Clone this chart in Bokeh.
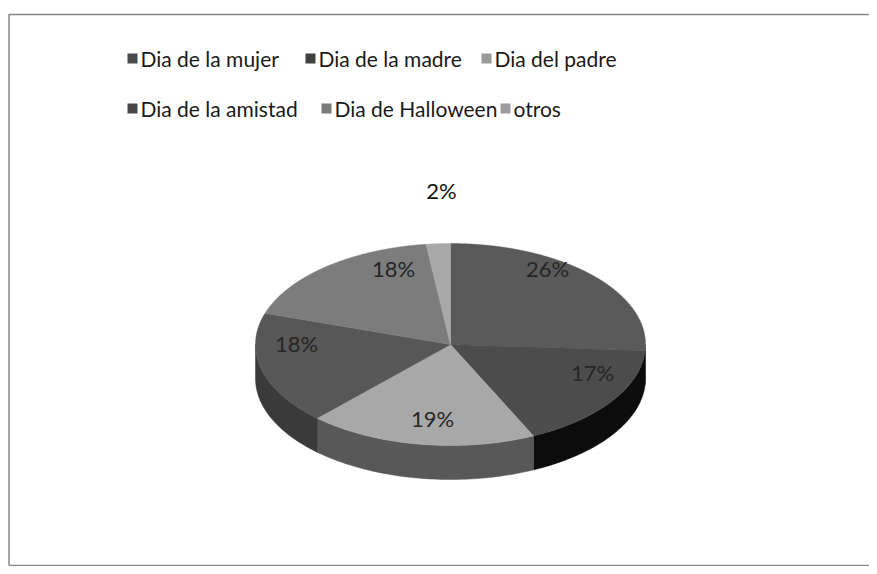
import numpy as np
from bokeh.plotting import figure
from bokeh.models import Range1d
from bokeh.core.properties import value
from bokeh.embed import file_html
from bokeh.resources import INLINE

# ---- data ----
categories = ["Dia de la mujer", "Dia de la madre", "Dia del padre",
              "Dia de la amistad", "Dia de Halloween", "otros"]
percents = [26, 17, 19, 18, 18, 2]

# ---- styles ----
top_colors = ["#5a5a5a", "#4c4c4c", "#a8a8a8", "#575757", "#7c7c7c", "#a9a9a9"]
side_colors = ["#383838", "#0c0c0c", "#585858", "#3a3a3a", "#555555", "#777777"]
legend_colors = ["#4a4a4a", "#404040", "#9a9a9a", "#474747", "#7a7a7a", "#9c9c9c"]

W, H = 869, 566
PAGE_H = 574

def Y(ypix):
    return PAGE_H - ypix

# pie layout (pixel space)
cx, cy, ra, rb, depth = 450, 344, 195, 101, 34

p = figure(width=W, height=H, output_backend="svg", toolbar_location=None,
           x_range=Range1d(0, W), y_range=Range1d(Y(H), Y(0)),
           min_border=0)
p.axis.visible = False
p.grid.visible = False
p.outline_line_color = None
p.outline_line_alpha = 0
p.background_fill_color = "white"
p.border_fill_color = "white"

def pt(theta, drop=0):
    return cx + ra * np.sin(theta), Y(cy - rb * np.cos(theta) + drop)

total = float(sum(percents))
bounds = np.concatenate([[0], np.cumsum(percents)]) / total * 2 * np.pi

# sides
for i in range(len(percents)):
    t0, t1 = bounds[i], bounds[i + 1]
    s0, s1 = max(t0, np.pi / 2), min(t1, 3 * np.pi / 2)
    if s1 > s0:
        th = np.linspace(s0, s1, 60)
        xs_t, ys_t = pt(th)
        xs_b, ys_b = pt(th[::-1], depth)
        p.patch(np.concatenate([xs_t, xs_b]), np.concatenate([ys_t, ys_b]),
                fill_color=side_colors[i], line_color=side_colors[i], line_width=0.5)

# tops
for i in range(len(percents)):
    t0, t1 = bounds[i], bounds[i + 1]
    th = np.linspace(t0, t1, max(8, int(200 * (t1 - t0))))
    xs, ys = pt(th)
    p.patch(np.concatenate([[cx], xs]), np.concatenate([[Y(cy)], ys]),
            fill_color=top_colors[i], line_color=top_colors[i], line_width=0.5)

# percentage labels (layout positions in pixel space)
label_pos = [(547, 268), (592, 372), (432, 418), (296, 343), (393, 268), (441, 190)]
label_colors = ["#262626", "#262626", "#262626", "#262626", "#262626", "#111111"]
p.text(x=[q[0] for q in label_pos], y=[Y(q[1]) for q in label_pos],
       text=[f"{v}%" for v in percents], text_color=label_colors,
       text_font=value("Lato"), text_font_size="22px",
       text_align="center", text_baseline="middle")

# legend (layout positions)
leg_rows = [58, 58, 58, 108, 108, 108]
leg_x = [127, 305, 481, 127, 321, 500]
p.rect(x=[x + 5 for x in leg_x], y=[Y(r) for r in leg_rows], width=10, height=10,
       fill_color=legend_colors, line_color=None)
p.text(x=[x + 13 for x in leg_x], y=[Y(r) for r in leg_rows], text=categories,
       text_color="#1a1a1a", text_font=value("Lato"), text_font_size="21px",
       text_align="left", text_baseline="middle")

# chart border (left, top, bottom)
p.line(x=[8.5, 8.5, W + 20], y=[Y(565), Y(14), Y(14)], line_color="#888888", line_width=1.5)
p.line(x=[8.5, W + 20], y=[Y(565), Y(565)], line_color="#888888", line_width=1.5)

open("out.html", "w").write(file_html(p, INLINE))
